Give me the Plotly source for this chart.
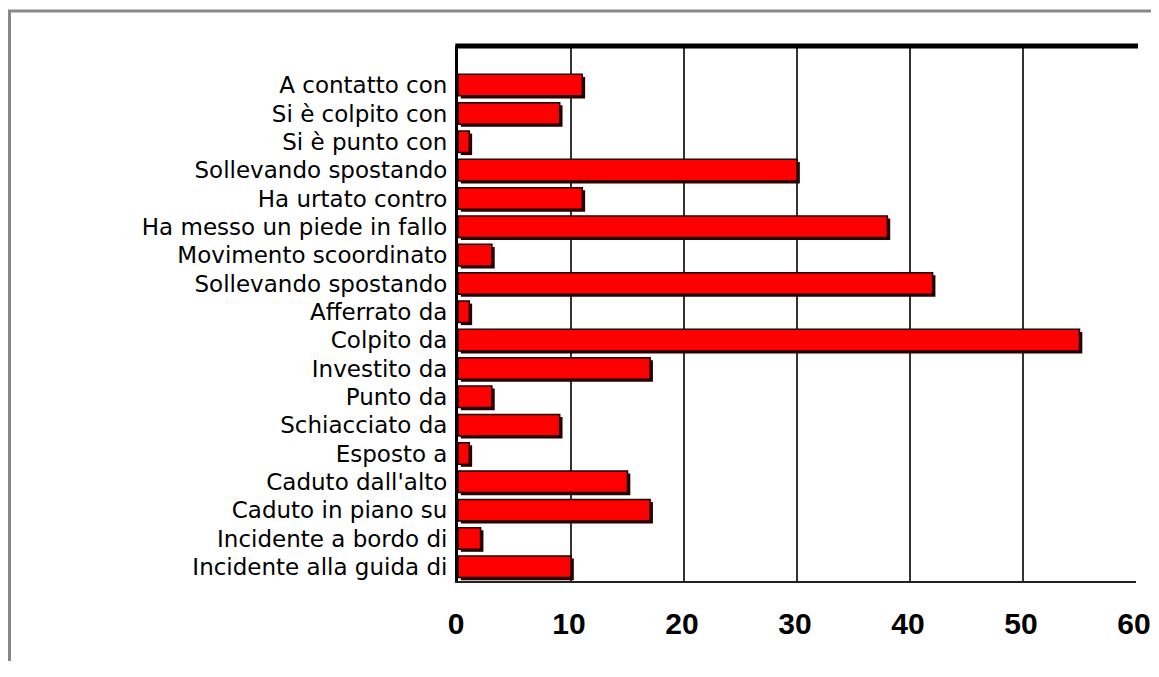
import plotly.graph_objects as go

categories = [
    "A contatto con", "Si è colpito con", "Si è punto con", "Sollevando spostando",
    "Ha urtato contro", "Ha messo un piede in fallo", "Movimento scoordinato",
    "Sollevando spostando", "Afferrato da", "Colpito da", "Investito da", "Punto da",
    "Schiacciato da", "Esposto a", "Caduto dall'alto", "Caduto in piano su",
    "Incidente a bordo di", "Incidente alla guida di",
]
values = [11, 9, 1, 30, 11, 38, 3, 42, 1, 55, 17, 3, 9, 1, 15, 17, 2, 10]
x_ticks = [0, 10, 20, 30, 40, 50, 60]

n = len(categories)
ypos = [n - 1 - i for i in range(n)]
bw = 0.76

fig = go.Figure()
# shadow
fig.add_trace(go.Bar(
    y=ypos, x=values, orientation="h", base=0.25, width=bw, offset=-bw / 2 - 0.09,
    marker=dict(color="#2a0000", line=dict(width=0)), hoverinfo="skip", showlegend=False,
))
fig.add_trace(go.Bar(
    y=ypos, x=values, orientation="h", width=bw, offset=-bw / 2,
    marker=dict(color="#ff0000", line=dict(color="#1a0000", width=1.5)),
    showlegend=False,
))

# page body has an 8px margin; compensate so the plot lands where the reference has it
OFF = 8
W, H = 1159 - OFF, 677 - 2 * OFF - 8
L, R, T = 458 - OFF, 23, 46 - OFF
PH = 535
B = H - T - PH
pw, ph = W - L - R, PH

fig.update_layout(
    width=W, height=H, barmode="overlay",
    margin=dict(l=L, r=R, t=T, b=B, autoexpand=False),
    paper_bgcolor="white", plot_bgcolor="white",
    font=dict(family="Liberation Sans, Arial, sans-serif", color="black"),
    xaxis=dict(
        range=[0, 60], tickvals=x_ticks, ticktext=[str(v) for v in x_ticks],
        showgrid=True, gridcolor="#333333", gridwidth=2, zeroline=False,
        showline=True, linecolor="#222222", linewidth=2,
        tickfont=dict(size=30, family="Liberation Sans, Arial, sans-serif", weight="bold"),
        ticks="", ticklabelstandoff=15, ticklabelshift=-2,
    ),
    yaxis=dict(
        range=[-0.5, 18.38], tickvals=ypos, ticktext=categories,
        showgrid=False, zeroline=False, showline=True, linecolor="black", linewidth=3,
        tickfont=dict(size=23, family="DejaVu Sans, sans-serif"),
        ticks="", ticklabelstandoff=3,
    ),
    shapes=[
        dict(type="line", xref="paper", yref="paper", x0=-0.004, x1=1.003, y0=1, y1=1,
             line=dict(color="black", width=5)),
        dict(type="rect", xref="paper", yref="paper",
             x0=(1.5 - L) / pw, x1=2, y0=-1, y1=(T + PH - 3) / ph,
             line=dict(color="#888888", width=3)),
    ],
)

fig.write_html("out.html")
